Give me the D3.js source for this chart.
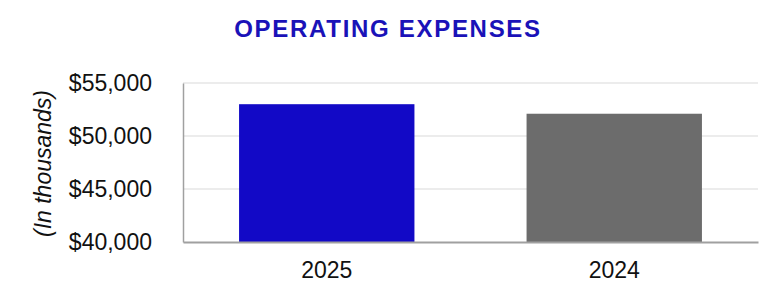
<!DOCTYPE html>
<meta charset="utf-8">
<script src="https://d3js.org/d3.v7.min.js"></script>
<style>
  body { margin: 0; background: #fff; }
  text { font-family: "Liberation Sans", Arial, sans-serif; }
</style>
<svg id="chart" width="778" height="306"></svg>
<script>
    // chart data
    var years = ["2025", "2024"];
    var expenses = [53000, 52100];
    var barColors = ["#1209c6", "#6c6c6c"];
    var yTicks = [40000, 45000, 50000, 55000];

    var margin = { top: 83, right: 20, bottom: 64, left: 183 },
        width = 778 - margin.left - margin.right,
        height = 306 - margin.top - margin.bottom;

    var svg = d3.select("#chart");

    svg.append("text")
        .attr("x", 388)
        .attr("y", 37)
        .attr("text-anchor", "middle")
        .style("font-size", "24px")
        .style("font-weight", "bold")
        .style("letter-spacing", "1.7px")
        .style("fill", "#1a12b8")
        .text("OPERATING EXPENSES");

    var g = svg.append("g")
        .attr("transform", "translate(" + margin.left + "," + margin.top + ")");

    var x = d3.scaleBand()
        .domain(years)
        .range([0, width])
        .paddingInner(0.39)
        .paddingOuter(0.195);

    var y = d3.scaleLinear()
        .domain([40000, 55000])
        .range([height, 0]);

    // gridlines
    g.selectAll(".grid")
        .data(yTicks.slice(1))
        .enter().append("line")
        .attr("x1", 0)
        .attr("x2", width)
        .attr("y1", d => y(d))
        .attr("y2", d => y(d))
        .attr("stroke", "#e6e6e6")
        .attr("stroke-width", 1.5);

    g.selectAll(".bar")
        .data(years)
        .enter().append("rect")
        .attr("x", d => x(d))
        .attr("y", (d, i) => y(expenses[i]))
        .attr("width", x.bandwidth())
        .attr("height", (d, i) => height - y(expenses[i]))
        .attr("fill", (d, i) => barColors[i]);

    // y axis labels
    var yAxis = g.append("g")
        .call(d3.axisLeft(y).tickValues(yTicks).tickSize(0).tickPadding(31)
            .tickFormat(d => "$" + d3.format(",")(d)));
    yAxis.select(".domain").attr("stroke", "#a0a0a0").attr("stroke-width", 1.5);
    yAxis.selectAll("text")
        .style("font-size", "23px")
        .style("fill", "#111")
        .style("font-family", "Liberation Sans, Arial, sans-serif");

    // x axis
    var xAxis = g.append("g")
        .attr("transform", "translate(0," + height + ")")
        .call(d3.axisBottom(x).tickSize(0).tickPadding(20));
    xAxis.select(".domain").attr("stroke", "#a0a0a0").attr("stroke-width", 2);
    xAxis.selectAll("text")
        .style("font-size", "23px")
        .style("fill", "#111")
        .style("font-family", "Liberation Sans, Arial, sans-serif");

    svg.append("text")
        .attr("transform", "translate(51," + (margin.top + height / 2 + 1) + ") rotate(-90)")
        .attr("text-anchor", "middle")
        .style("font-size", "23px")
        .style("font-style", "italic")
        .style("fill", "#111")
        .text("(In thousands)");
</script>
